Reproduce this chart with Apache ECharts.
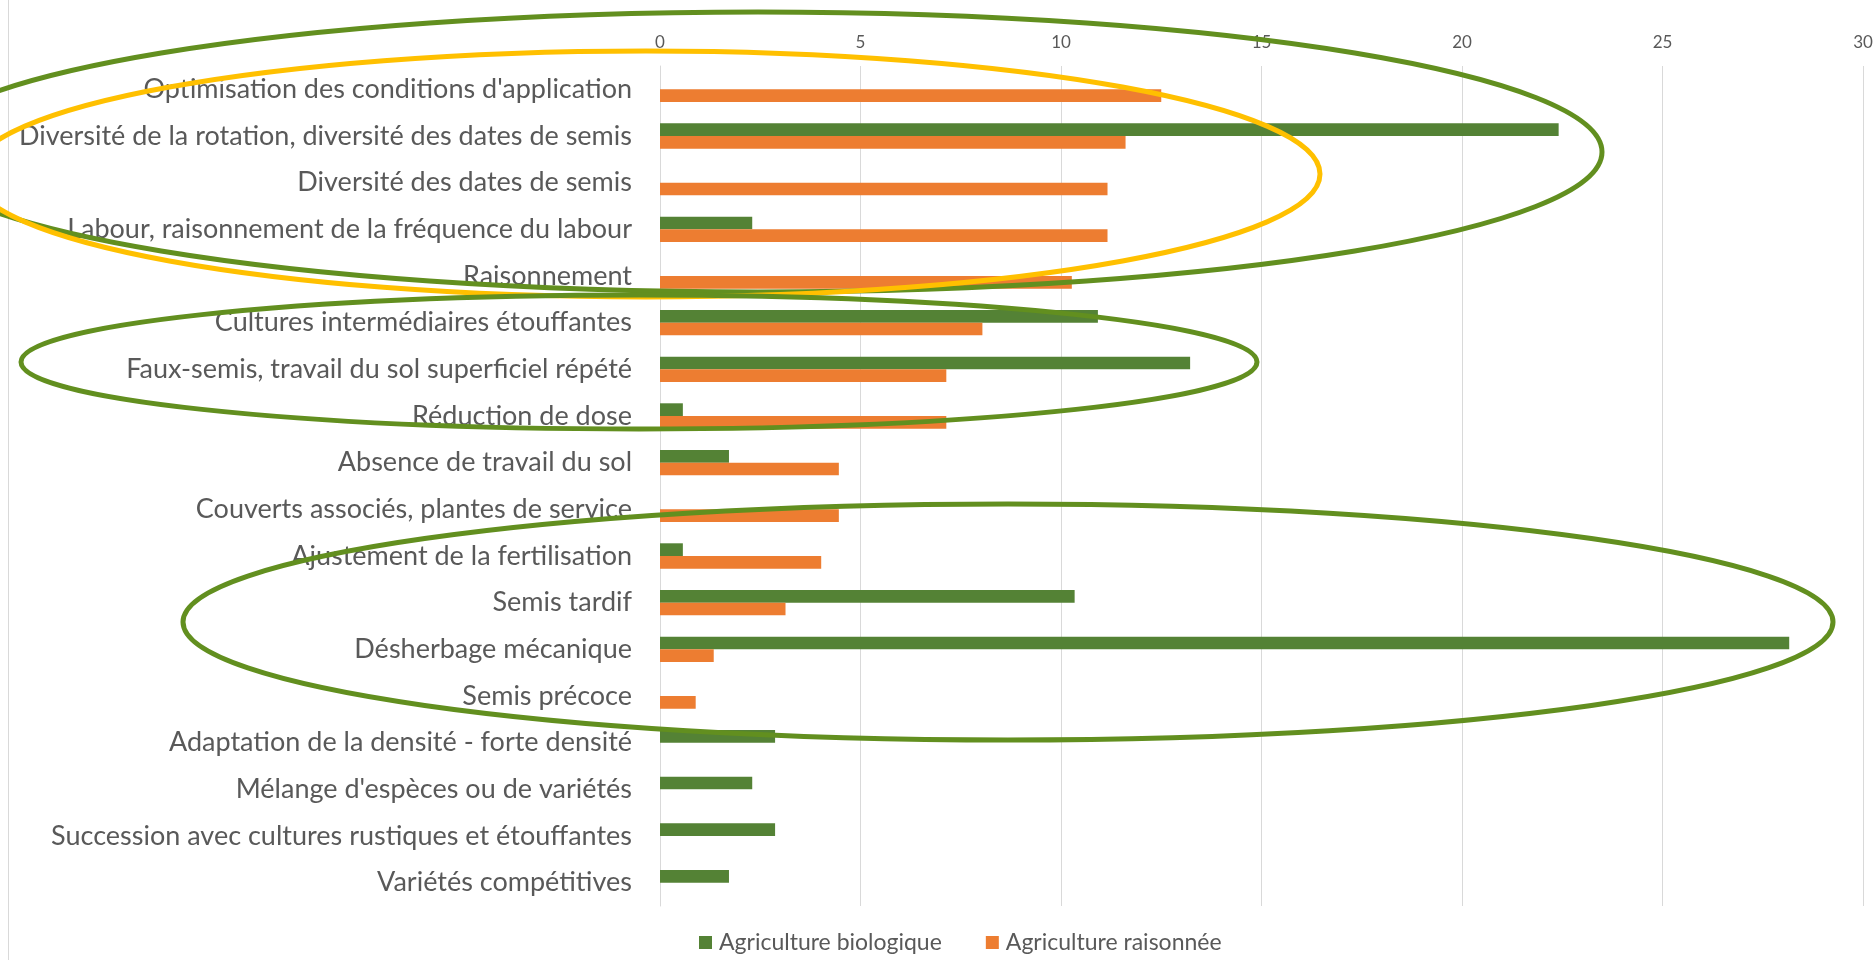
<!DOCTYPE html>
<html>
<head>
<meta charset="utf-8">
<script src="https://cdn.jsdelivr.net/npm/echarts@6/dist/echarts.min.js"></script>
<style>
  html, body { margin: 0; padding: 0; background: #ffffff; }
  #chart { width: 1876px; height: 960px; }
</style>
</head>
<body>
<div id="chart"></div>
<script>
const categories = [
  "Optimisation des conditions d'application",
  "Diversité de la rotation, diversité des dates de semis",
  "Diversité des dates de semis",
  "Labour, raisonnement de la fréquence du labour",
  "Raisonnement",
  "Cultures intermédiaires étouffantes",
  "Faux-semis, travail du sol superficiel répété",
  "Réduction de dose",
  "Absence de travail du sol",
  "Couverts associés, plantes de service",
  "Ajustement de la fertilisation",
  "Semis tardif",
  "Désherbage mécanique",
  "Semis précoce",
  "Adaptation de la densité - forte densité",
  "Mélange d'espèces ou de variétés",
  "Succession avec cultures rustiques et étouffantes",
  "Variétés compétitives"
];
const seriesNames = ["Agriculture biologique", "Agriculture raisonnée"];
const bio = [null, 22.41, null, 2.30, null, 10.92, 13.22, 0.57, 1.72, null, 0.57, 10.34, 28.16, null, 2.87, 2.30, 2.87, 1.72];
const raisonnee = [12.50, 11.61, 11.16, 11.16, 10.27, 8.04, 7.14, 7.14, 4.46, 4.46, 4.02, 3.13, 1.34, 0.89, null, null, null, null];
const xTicks = [0, 30, 5]; // min, max, interval

const GREEN = '#548235', ORANGE = '#ED7D31', TEXT = '#595959', GRID = '#d9d9d9';
const RING_GREEN = '#628F1F', RING_YELLOW = '#FFC000';
const FONT = 'Lato, "Open Sans", sans-serif';

const chart = echarts.init(document.getElementById('chart'), null, { renderer: 'canvas' });

function ring(cx, cy, rx, ry, color) {
  return {
    type: 'ellipse', z: 100, silent: true,
    shape: { cx: cx, cy: cy, rx: rx, ry: ry },
    style: { fill: 'none', stroke: color, lineWidth: 5 }
  };
}

chart.setOption({
  animation: false,
  backgroundColor: '#ffffff',
  textStyle: { fontFamily: FONT },
  grid: { left: 660, right: 13, top: 66, bottom: 54, containLabel: false },
  legend: {
    data: seriesNames,
    left: 694, bottom: 1,
    itemWidth: 13, itemHeight: 13, itemGap: 44,
    icon: 'rect',
    textStyle: { color: TEXT, fontSize: 23, fontFamily: FONT, padding: [0, 0, 0, 2] }
  },
  xAxis: {
    type: 'value', position: 'top',
    min: xTicks[0], max: xTicks[1], interval: xTicks[2],
    axisLine: { show: false }, axisTick: { show: false },
    axisLabel: { color: TEXT, fontSize: 17, margin: 15, fontFamily: FONT },
    splitLine: { show: true, lineStyle: { color: GRID, width: 1 } }
  },
  yAxis: {
    type: 'category', data: categories, inverse: true,
    axisLine: { show: true, lineStyle: { color: GRID, width: 1 } },
    axisTick: { show: false },
    axisLabel: { color: TEXT, fontSize: 27, margin: 28, fontFamily: FONT }
  },
  series: [
    { name: seriesNames[0], type: 'bar', data: bio, barWidth: 12.7, barGap: '0%',
      itemStyle: { color: GREEN } },
    { name: seriesNames[1], type: 'bar', data: raisonnee, barWidth: 12.7, barGap: '0%',
      itemStyle: { color: ORANGE } }
  ],
  graphic: [
    { type: 'line', silent: true, z: 1, shape: { x1: 8.5, y1: 0, x2: 8.5, y2: 960 },
      style: { stroke: GRID, lineWidth: 1 } },
    ring(758, 152, 844, 140, RING_GREEN),
    ring(646, 174, 674, 123, RING_YELLOW),
    ring(639, 362, 618, 67, RING_GREEN),
    ring(1008, 622, 825, 118, RING_GREEN)
  ]
});
</script>
</body>
</html>
